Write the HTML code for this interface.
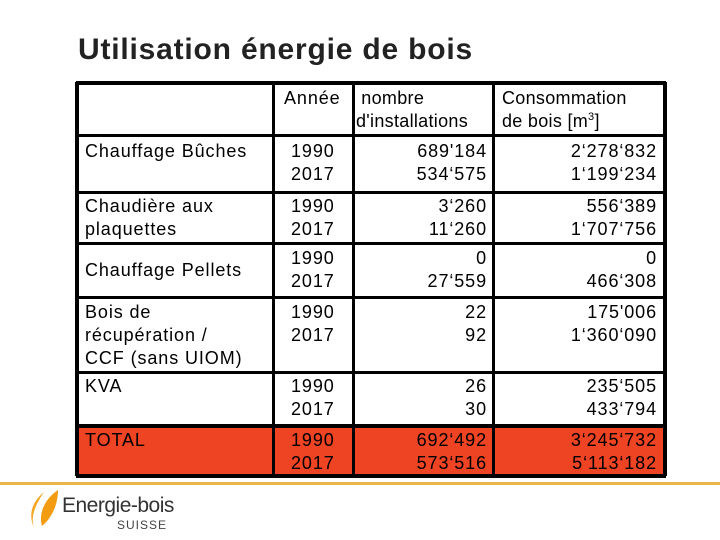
<!DOCTYPE html>
<html><head><meta charset="utf-8"><style>
body{margin:0;width:720px;height:540px;background:#fff;position:relative;overflow:hidden;font-family:"Liberation Sans",Arial,sans-serif;}
.t{position:absolute;font-size:18px;letter-spacing:0.9px;line-height:23px;color:#000;white-space:nowrap;}
.r{text-align:right;}
.h{position:absolute;background:#000;height:3px;left:76px;width:590px;}
.v{position:absolute;background:#000;width:3px;top:82px;height:394px;}
.red{position:absolute;background:#ef4423;}
</style></head><body>
<div class="t" style="left:78px;top:32px;font-size:30px;letter-spacing:0.8px;line-height:36px;font-weight:bold;color:#222">Utilisation énergie de bois</div>

<div>
<div class="red" style="left:76px;top:425px;width:590px;height:51px"></div>
<div class="h" style="top:81px;height:4px"></div>
<div class="h" style="top:134px"></div>
<div class="h" style="top:191px"></div>
<div class="h" style="top:242px"></div>
<div class="h" style="top:296px"></div>
<div class="h" style="top:371px"></div>
<div class="h" style="top:424px;height:4px"></div>
<div class="h" style="top:474px;height:4px"></div>
<div class="v" style="left:75px;width:4px"></div>
<div class="v" style="left:272px"></div>
<div class="v" style="left:352px"></div>
<div class="v" style="left:492px"></div>
<div class="v" style="left:663px;width:4px"></div>

<div class="t" style="left:284px;top:87px">Année</div>
<div class="t" style="left:356px;top:87px;letter-spacing:0.3px">&nbsp;nombre<br>d'installations</div>
<div class="t" style="left:502px;top:87px;letter-spacing:0.3px">Consommation<br>de bois [m<sup style="font-size:11px;line-height:0">3</sup>]</div>

<div class="t" style="left:85px;top:140px">Chauffage Bûches</div>
<div class="t" style="left:291px;top:140px">1990<br>2017</div>
<div class="t r" style="right:233px;top:140px">689'184<br>534‘575</div>
<div class="t r" style="right:63px;top:140px">2‘278‘832<br>1‘199‘234</div>

<div class="t" style="left:85px;top:195px">Chaudière aux<br>plaquettes</div>
<div class="t" style="left:291px;top:195px">1990<br>2017</div>
<div class="t r" style="right:233px;top:195px">3‘260<br>11‘260</div>
<div class="t r" style="right:63px;top:195px">556‘389<br>1‘707‘756</div>

<div class="t" style="left:85px;top:259px">Chauffage Pellets</div>
<div class="t" style="left:291px;top:247px">1990<br>2017</div>
<div class="t r" style="right:233px;top:247px">0<br>27‘559</div>
<div class="t r" style="right:63px;top:247px">0<br>466‘308</div>

<div class="t" style="left:85px;top:301px">Bois de<br>récupération /<br>CCF (sans UIOM)</div>
<div class="t" style="left:291px;top:301px">1990<br>2017</div>
<div class="t r" style="right:233px;top:301px">22<br>92</div>
<div class="t r" style="right:63px;top:301px">175'006<br>1‘360‘090</div>

<div class="t" style="left:85px;top:375px">KVA</div>
<div class="t" style="left:291px;top:375px">1990<br>2017</div>
<div class="t r" style="right:233px;top:375px">26<br>30</div>
<div class="t r" style="right:63px;top:375px">235‘505<br>433‘794</div>

<div class="t" style="left:85px;top:429px">TOTAL</div>
<div class="t" style="left:291px;top:429px">1990<br>2017</div>
<div class="t r" style="right:233px;top:429px">692‘492<br>573‘516</div>
<div class="t r" style="right:63px;top:429px">3‘245‘732<br>5‘113‘182</div>
</div>

<div style="position:absolute;left:0;top:482px;width:720px;height:3px;background:#e9b54a"></div>
<div style="position:absolute;left:24px;top:488px;width:160px;height:48px">
<svg width="36" height="44" style="position:absolute;left:0;top:0">
<path d="M20 4 C8 14 4 26 10 40 C6 28 12 16 20 4Z" fill="#f5a623"/>
<path d="M34 2 C22 10 14 24 18 38 C28 30 34 16 34 2Z" fill="#f39c12"/>
</svg>
<div class="t" style="left:38px;top:6px;font-size:21px;color:#333;letter-spacing:-0.5px">Energie-bois</div>
<div class="t" style="left:93px;top:26px;font-size:12px;color:#444;letter-spacing:1px">SUISSE</div>
</div>
</body></html>
